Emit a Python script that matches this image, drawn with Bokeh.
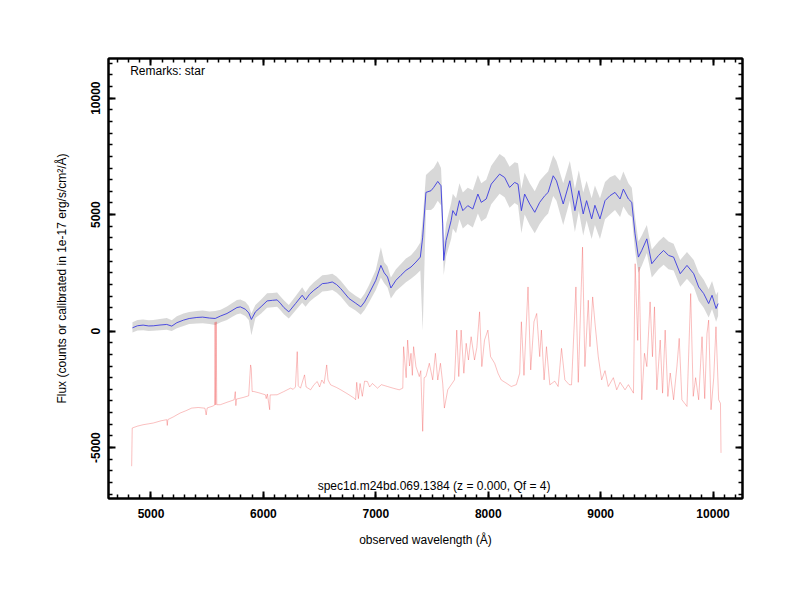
from bokeh.plotting import figure
from bokeh.models import (Range1d, LinearAxis, SingleIntervalTicker, NumeralTickFormatter, Label,
                          CustomLabelingPolicy)
from bokeh.embed import file_html
from bokeh.resources import INLINE

# ---- smoothed spectrum (blue) ----
blue_wl = [4835, 4880, 4930, 4980, 5020, 5080, 5140, 5185, 5230, 5289, 5340, 5408, 5460, 5520, 5571,
           5620, 5676, 5720, 5765, 5795, 5839, 5870, 5893, 5929, 5980, 6033, 6080, 6122, 6150, 6182,
           6226, 6286, 6345, 6375, 6410, 6449, 6490, 6524, 6570, 6613, 6650, 6688, 6762, 6820, 6866,
           6900, 6940, 7000, 7045, 7075, 7104, 7134, 7179, 7223, 7268, 7313, 7357, 7396, 7417, 7446,
           7491, 7515, 7551, 7580, 7595, 7604, 7625, 7670, 7685, 7714, 7744, 7774, 7818, 7863, 7908,
           7938, 7982, 8027, 8101, 8146, 8190, 8235, 8265, 8295, 8324, 8369, 8414, 8458, 8503, 8533,
           8578, 8607, 8667, 8726, 8771, 8806, 8845, 8875, 8920, 8949, 8994, 9039, 9083, 9128, 9173,
           9202, 9247, 9277, 9306, 9336, 9366, 9411, 9455, 9515, 9560, 9604, 9649, 9708, 9768, 9828,
           9872, 9917, 9961, 9991, 10027, 10045]
blue_fl = [140, 230, 256, 220, 227, 260, 285, 213, 360, 470, 540, 584, 600, 560, 541,
           650, 755, 880, 1011, 1040, 940, 780, 499, 826, 1050, 1296, 1320, 1339, 1200, 1011,
           826, 1182, 1538, 1339, 1580, 1752, 1900, 2037, 2060, 2108, 2000, 1823, 1396, 1200, 1040,
           1250, 1610, 2180, 2820, 2500, 2322, 1850, 2180, 2393, 2607, 2750, 2963, 3177, 4032, 5954,
           6026, 6168, 6425, 6240, 4601, 3034, 3889, 4744, 5171, 4957, 5598, 5171, 5385, 5242, 5883,
           5527, 5670, 6310, 6738, 6595, 6168, 6381, 6310, 5171, 5883, 5456, 5100, 5527, 5812, 5954,
           6667, 6453, 5456, 6453, 5171, 6026, 5029, 5598, 4815, 5400, 4815, 5598, 5812, 5954, 5670,
           6096, 5670, 5527, 4174, 3177, 3462, 3960, 2892, 3248, 3462, 3248, 3177, 2464, 2820, 2464,
           1895, 1610, 1182, 1538, 968, 1182]

# ---- raw spectrum envelope (gray) ----
gray_hi = [380, 480, 500, 460, 480, 520, 560, 470, 640, 760, 820, 860, 880, 840, 860,
           920, 1060, 1200, 1330, 1360, 1260, 1080, 760, 1120, 1360, 1620, 1640, 1660, 1500, 1320,
           1120, 1500, 1880, 1660, 1900, 2100, 2260, 2400, 2420, 2460, 2340, 2160, 1720, 1520, 1380,
           1600, 1980, 2620, 3600, 2950, 2780, 2300, 2650, 2880, 3120, 3260, 3500, 3800, 4800, 6700,
           6900, 7000, 7300, 7000, 5400, 3700, 4600, 5500, 5900, 5700, 6350, 5950, 6150, 6050, 6700,
           6350, 6500, 7100, 7600, 7450, 7050, 7250, 7200, 6100, 6800, 6350, 6000, 6450, 6700, 6850,
           7550, 7300, 6350, 7300, 6100, 6900, 5950, 6450, 5700, 6250, 5700, 6400, 6600, 6700, 6450,
           6850, 6350, 6150, 4900, 3850, 4100, 4550, 3500, 3850, 4050, 3850, 3750, 3050, 3400, 3050,
           2500, 2200, 1800, 2150, 1550, 1700]
gray_lo = [-60, 20, 40, 0, 10, 40, 60, 0, 120, 220, 300, 330, 340, 300, 260,
           380, 480, 600, 720, 760, 650, 480, -180, 560, 760, 1000, 1020, 1040, 900, 720,
           540, 880, 1220, 1040, 1260, 1420, 1560, 1700, 1720, 1760, 1660, 1480, 1060, 880, 700,
           900, 1240, 1760, 2300, 2050, 1880, 1400, 1720, 1900, 2100, 2250, 2420, 2600, 0, 5200,
           5200, 5300, 5600, 5400, 3800, 2400, 3200, 3950, 4400, 4200, 4800, 4400, 4600, 4450, 5050,
           4700, 4850, 5450, 5900, 5750, 5300, 5500, 5400, 4200, 5000, 4550, 4200, 4600, 4900, 5050,
           5800, 5600, 4550, 5600, 4250, 5150, 4100, 4750, 3950, 4550, 3950, 4800, 5000, 5200, 4900,
           5350, 5000, 4900, 3450, 2500, 2800, 3350, 2300, 2650, 2850, 2650, 2600, 1900, 2250, 1900,
           1300, 1000, 580, 950, 400, 650]

# ---- sky / offset spectrum (red) ----
red_wl = [4828, 4833, 4880, 4930, 4980, 5021, 5090, 5140, 5145, 5150, 5200, 5259, 5310, 5363, 5420,
          5480, 5491, 5500, 5550, 5565, 5570, 5575, 5580, 5585, 5616, 5680, 5740, 5750, 5755, 5760,
          5820, 5869, 5886, 5892, 5900, 5914, 5960, 6018, 6025, 6035, 6056, 6060, 6122, 6180, 6241,
          6265, 6285, 6301, 6310, 6330, 6366, 6380, 6420, 6450, 6479, 6500, 6520, 6540, 6563, 6575,
          6598, 6650, 6688, 6750, 6807, 6820, 6830, 6845, 6860, 6880, 6900, 6925, 6945, 6970, 7015,
          7050, 7104, 7160, 7208, 7240, 7247, 7270, 7283, 7300, 7313, 7325, 7336, 7357, 7387, 7400,
          7417, 7430, 7446, 7476, 7506, 7530, 7551, 7575, 7595, 7610, 7640, 7670, 7700, 7720, 7738,
          7759, 7783, 7804, 7824, 7848, 7878, 7899, 7923, 7943, 7967, 7997, 8021, 8057, 8087, 8116,
          8161, 8205, 8250, 8280, 8295, 8318, 8354, 8378, 8407, 8431, 8458, 8473, 8497, 8518, 8548,
          8592, 8622, 8652, 8682, 8720, 8741, 8780, 8801, 8839, 8860, 8890, 8905, 8929, 8950, 8979,
          9009, 9039, 9068, 9113, 9143, 9173, 9217, 9247, 9292, 9307, 9330, 9342, 9366, 9390, 9411,
          9440, 9461, 9479, 9500, 9530, 9551, 9574, 9598, 9619, 9649, 9679, 9699, 9723, 9768, 9801,
          9824, 9845, 9872, 9902, 9926, 9946, 9961, 9982, 10006, 10026, 10050, 10066, 10071]
red_fl = [-5800, -4160, -4080, -4020, -3980, -3946, -3850, -3803, -4050, -3800, -3680, -3519, -3420, -3305, -3280,
          -3310, -3600, -3300, -3220, -3180, 380, -3170, 400, -3160, -3162, -3050, -2950, -2600, -3200, -2920,
          -2850, -2778, -1453, -1600, -2593, -2593, -2650, -2736, -2900, -2700, -3376, -2740, -2735, -2600, -2450,
          -2500, -2400, -883, -2350, -2450, -1880, -2400, -2521, -2300, -2165, -2400, -2100, -2250, -1453, -2100,
          -2308, -2420, -2521, -2700, -2877, -2950, -2200, -2900, -2250, -2800, -2150, -2165, -2400, -2250, -2450,
          -2300, -2380, -2460, -2521, -2450, -670, -2000, -385, -1500, -954, -1900, -670, -1524, -1952, -1700,
          -4302, -2000, -1952, -1382, -2094, -954, -2100, -1382, -2236, -3305, -2521, -2308, -2094, 43, -1952,
          43, -1810, -524, -1240, -242, -1240, -700, 826, -1524, -385, 43, -1097, -1382, -1810, -2100,
          -2236, -2379, -2300, -1810, 399, -1900, 1895, -1667, 399, 755, -1097, 43, -2094, -670, -2308,
          -2150, -2379, -741, -2094, -2300, -2308, 1895, -2200, 3604, -1524, 1325, -670, 1466, 328, -1097,
          -2094, -1700, -2379, -2000, -2521, -2200, -2521, -2300, -2664, 2892, -400, 2750, -2950, -954, -1524,
          1253, -1100, 1040, -2521, -385, -2664, 43, -2807, -1800, -2950, -1500, -313, -2950, -3234, 1610,
          -2800, -2000, -2950, -242, -2900, -100, 470, -3376, -2000, 185, -2950, -3100, -5228]

x_major = 1000
y_major = 5000
title_text = "spec1d.m24bd.069.1384 (z = 0.000, Qf = 4)"
remarks_text = "Remarks: star"

FONT = "Liberation Sans"

p = figure(width=784, height=584, output_backend="svg", toolbar_location=None,
           x_range=Range1d(4622, 10262), y_range=Range1d(-7187, 11702),
           min_border_left=108, min_border_right=42, min_border_top=58, min_border_bottom=86,
           x_axis_label="observed wavelength (Å)",
           y_axis_label="Flux (counts or calibrated in 1e-17 erg/s/cm²/Å)")
p.grid.visible = False
p.outline_line_color = "black"
p.outline_line_width = 2
p.background_fill_color = "white"
p.border_fill_color = "white"

p.varea(x=blue_wl, y1=gray_lo, y2=gray_hi, fill_color="#c8c8c8", fill_alpha=0.7)
p.line(red_wl, red_fl, line_color="#f03c3c", line_alpha=0.55, line_width=0.6)
p.line(blue_wl, blue_fl, line_color="#3c3ce0", line_alpha=0.9, line_width=1)

def style_axis(ax, labels=True):
    ax.axis_line_width = 2
    ax.axis_line_color = "black"
    ax.major_tick_in = 7
    ax.major_tick_out = 0
    ax.minor_tick_in = 4
    ax.minor_tick_out = 0
    ax.major_tick_line_color = "black"
    ax.minor_tick_line_color = "black"
    ax.major_tick_line_width = 2
    ax.minor_tick_line_width = 1.5
    ax.major_label_text_font = FONT
    ax.major_label_text_font_style = "bold"
    ax.major_label_text_font_size = "12px"
    ax.major_label_text_color = "black"
    ax.axis_label_text_font = FONT
    ax.axis_label_text_font_style = "normal"
    ax.axis_label_text_font_size = "12px"
    ax.axis_label_text_color = "black"
    if not labels:
        ax.major_label_policy = CustomLabelingPolicy(code="if (false) { yield 0 }")
        ax.major_label_standoff = 0

xt = SingleIntervalTicker(interval=x_major, num_minor_ticks=10)
yt = SingleIntervalTicker(interval=y_major, num_minor_ticks=10)

p.xaxis.ticker = xt
p.yaxis.ticker = yt
style_axis(p.xaxis[0])
style_axis(p.yaxis[0])
p.xaxis.major_label_standoff = 10
p.xaxis.axis_label_standoff = 12
p.yaxis.major_label_standoff = 8
p.yaxis.axis_label_standoff = 20
p.yaxis.major_label_orientation = "vertical"
p.yaxis.formatter = NumeralTickFormatter(format="0")

top = LinearAxis(ticker=SingleIntervalTicker(interval=x_major, num_minor_ticks=10))
right = LinearAxis(ticker=SingleIntervalTicker(interval=y_major, num_minor_ticks=10))
style_axis(top, labels=False)
style_axis(right, labels=False)
p.add_layout(top, "above")
p.add_layout(right, "right")

p.add_layout(Label(x=4815, y=11150, text=remarks_text, text_font=FONT, text_font_size="12px",
                   text_baseline="middle", text_align="left", text_color="black"))
p.add_layout(Label(x=7518, y=-6650, text=title_text, text_font=FONT, text_font_size="12px",
                   text_baseline="middle", text_align="center", text_color="black"))

open("out.html", "w").write(file_html(p, INLINE))
